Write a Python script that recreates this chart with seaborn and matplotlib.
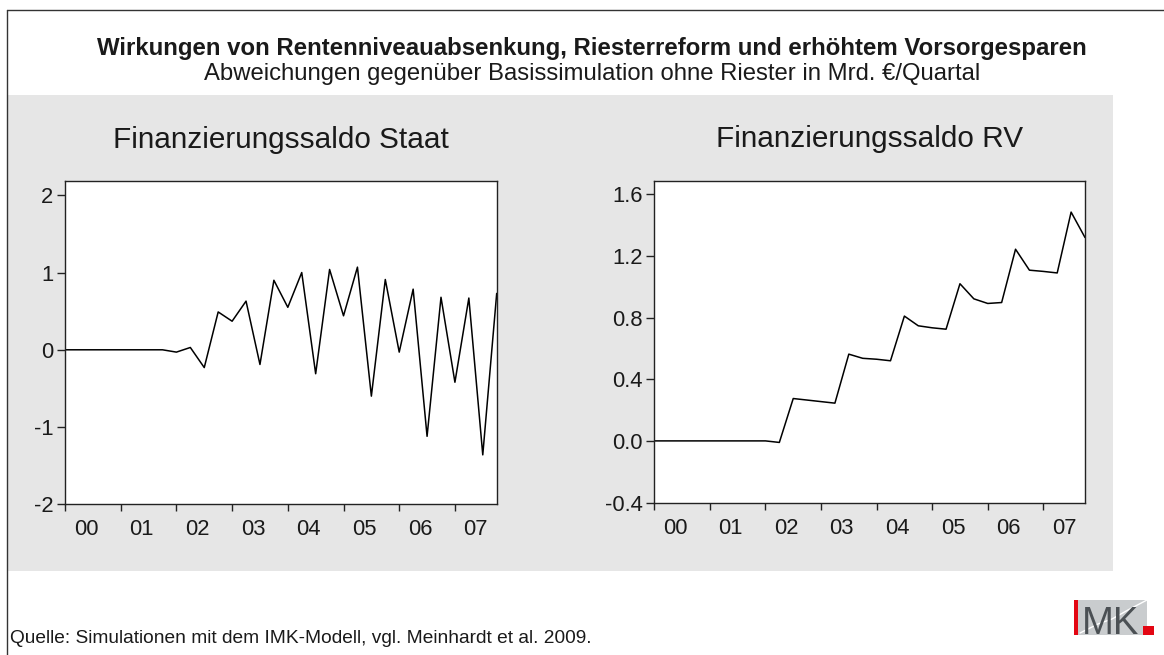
import numpy as np
import pandas as pd
import matplotlib
matplotlib.use("Agg")
import matplotlib.pyplot as plt
from matplotlib.patches import Rectangle
from matplotlib.lines import Line2D
from matplotlib.ticker import FormatStrFormatter
import seaborn as sns

# ---------------- data ----------------
years = ["00", "01", "02", "03", "04", "05", "06", "07"]
quarters_per_year = 4

staat = [0.0, 0.0, 0.0, 0.0, 0.0, 0.0, 0.0, 0.0,
         -0.03, 0.03, -0.23, 0.49, 0.37, 0.63, -0.19, 0.90,
         0.55, 1.00, -0.31, 1.04, 0.44, 1.07, -0.60, 0.91,
         -0.03, 0.785, -1.12, 0.68, -0.42, 0.67, -1.36, 0.73]

rv = [0.0, 0.0, 0.0, 0.0, 0.0, 0.0, 0.0, 0.0,
      0.0, -0.01, 0.275, 0.265, 0.255, 0.245, 0.563, 0.536,
      0.53, 0.52, 0.81, 0.747, 0.734, 0.725, 1.02, 0.922,
      0.892, 0.898, 1.244, 1.108, 1.10, 1.09, 1.485, 1.32]

title = "Wirkungen von Rentenniveauabsenkung, Riesterreform und erhöhtem Vorsorgesparen"
subtitle = "Abweichungen gegenüber Basissimulation ohne Riester in Mrd. €/Quartal"
panel_titles = ["Finanzierungssaldo Staat", "Finanzierungssaldo RV"]
source = "Quelle: Simulationen mit dem IMK-Modell, vgl. Meinhardt et al. 2009."

# ---------------- style ----------------
sns.set_style("white")
plt.rcParams['font.family'] = ['Liberation Sans', 'DejaVu Sans']
plt.rcParams['axes.unicode_minus'] = False

W, H = 1164, 655
fig = plt.figure(figsize=(W / 100, H / 100), dpi=100)
fig.patch.set_facecolor("white")


def fx(px):
    return px / W


def fy(py):
    return 1 - py / H


# gray panel (behind axes)
fig.patches.append(Rectangle((fx(8), fy(570.7)), fx(1113) - fx(8), fy(95) - fy(570.7),
                             transform=fig.transFigure, facecolor="#e6e6e6",
                             edgecolor="none", zorder=-5))
# outer frame lines
fig.lines.append(Line2D([fx(6.5), fx(6.5)], [fy(655), fy(9.5)], transform=fig.transFigure,
                        color="#333333", lw=1.0))
fig.lines.append(Line2D([fx(6.5), 1.0], [fy(9.5), fy(9.5)], transform=fig.transFigure,
                        color="#333333", lw=1.0))

# titles
fig.text(fx(592), fy(55), title, ha="center", va="baseline", fontsize=17.3,
         fontweight="bold", color="#1a1a1a")
fig.text(fx(592), fy(80), subtitle, ha="center", va="baseline", fontsize=17.2,
         color="#1a1a1a")

n = len(staat)
df = pd.DataFrame({"q": np.arange(n), "Staat": staat, "RV": rv})

axes_px = [(65, 181, 496.7, 504.3), (654.3, 180.5, 1085, 503.3)]
series = ["Staat", "RV"]
ylims = [(-2.0, 2.185), (-0.405, 1.69)]
yticks = [[-2, -1, 0, 1, 2], [-0.4, 0.0, 0.4, 0.8, 1.2, 1.6]]

for i in range(2):
    l, t, r, b = axes_px[i]
    ax = fig.add_axes([fx(l), fy(b), (r - l) / W, (b - t) / H])
    ax.set_zorder(1)
    ax.set_facecolor("white")
    sns.lineplot(data=df, x="q", y=series[i], ax=ax, color="black", lw=1.1)
    ax.set_xlim(0, n - 1)
    ax.set_ylim(*ylims[i])
    ax.set_xlabel("")
    ax.set_ylabel("")
    ax.set_xticks(np.arange(0, n, quarters_per_year))
    ax.set_xticklabels([])
    ax.set_xticks(np.arange(len(years)) * quarters_per_year + 1.5, minor=True)
    ax.set_xticklabels(years, minor=True)
    ax.tick_params(axis="x", which="major", direction="out", length=5, width=1.0,
                   color="#222222", bottom=True)
    ax.tick_params(axis="x", which="minor", length=0, pad=10.5, labelsize=15.8,
                   labelcolor="#1a1a1a", bottom=True)
    ax.set_yticks(yticks[i])
    if i == 1:
        ax.yaxis.set_major_formatter(FormatStrFormatter("%.1f"))
    ax.tick_params(axis="y", direction="out", length=5.5, width=1.0, pad=3,
                   labelsize=15.8, color="#222222", labelcolor="#1a1a1a", left=True)
    for s in ax.spines.values():
        s.set_visible(True)
        s.set_color("#222222")
        s.set_linewidth(1.0)
    ax.set_title(panel_titles[i], fontsize=21.4, pad=24, color="#1a1a1a")

# source
fig.text(fx(10), fy(643), source, ha="left", va="baseline", fontsize=13.8, color="#1a1a1a")

# IMK logo
fig.patches.append(Rectangle((fx(1074), fy(634.5)), fx(1078) - fx(1074), fy(599.5) - fy(634.5),
                             transform=fig.transFigure, facecolor="#e30613", edgecolor="none"))
fig.patches.append(Rectangle((fx(1078), fy(634.5)), fx(1147) - fx(1078), fy(599.5) - fy(634.5),
                             transform=fig.transFigure, facecolor="#c9ccce", edgecolor="none"))
fig.lines.append(Line2D([fx(1080), fx(1098), fx(1112), fx(1128), fx(1147)],
                        [fy(633), fy(624), fy(619), fy(610), fy(600)],
                        transform=fig.transFigure, color="white", lw=1.0))
fig.text(fx(1082), fy(634.5), "MK", ha="left", va="baseline", fontsize=27.5,
         color="#4b5054")
fig.patches.append(Rectangle((fx(1143), fy(634.5)), fx(1154) - fx(1143), fy(625.5) - fy(634.5),
                             transform=fig.transFigure, facecolor="#e30613", edgecolor="none"))

fig.savefig("out.png", dpi=100)
